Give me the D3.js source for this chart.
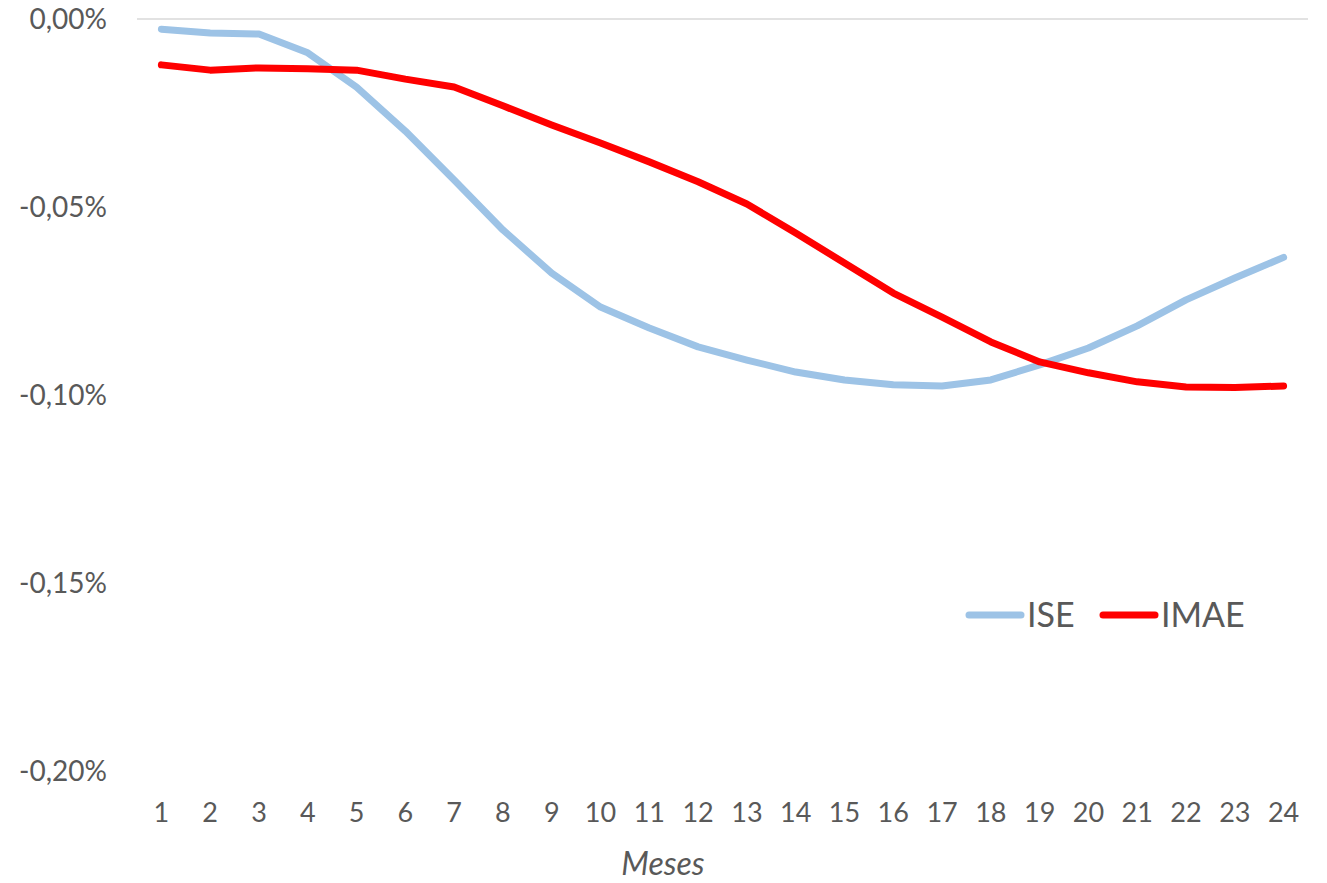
<!DOCTYPE html>
<html><head><meta charset="utf-8">
<script src="https://cdn.jsdelivr.net/npm/d3@7"></script>
<style>body{margin:0;background:#fff;} text{font-family:Lato,"Open Sans",sans-serif;}</style>
</head><body>
<svg id="c" width="1327" height="883"></svg>
<script>
const months = d3.range(1,25).map(String);
const ise = [-0.0027,-0.0037,-0.0040,-0.0090,-0.0181,-0.0298,-0.0428,-0.0561,-0.0676,-0.0766,-0.0822,-0.0872,-0.0907,-0.0939,-0.0960,-0.0973,-0.0976,-0.0960,-0.0920,-0.0875,-0.0816,-0.0747,-0.0689,-0.0634];
const imae = [-0.0122,-0.0136,-0.0130,-0.0132,-0.0136,-0.0160,-0.0181,-0.0231,-0.0282,-0.0330,-0.0380,-0.0433,-0.0492,-0.0569,-0.0649,-0.0729,-0.0793,-0.0859,-0.0912,-0.0941,-0.0965,-0.0979,-0.0980,-0.0976];
const yTicks = [0,-0.05,-0.10,-0.15,-0.20];
const seriesNames = ["ISE","IMAE"];
const colors = ["#9DC3E6","#FF0000"];

const svg = d3.select("#c");
const x = d3.scaleBand().domain(months).range([137,1308]);
const y = d3.scaleLinear().domain([-0.20,0]).range([771,19]);
const fmt = v => (v===0?"0,00%":d3.format(".2f")(v).replace("−","-").replace(".",",")+"%");

// gridline at zero
svg.append("line").attr("x1",137).attr("x2",1308).attr("y1",y(0)).attr("y2",y(0))
  .attr("stroke","#D9D9D9").attr("stroke-width",1.5);

// y tick labels
svg.selectAll(".yt").data(yTicks).enter().append("text")
  .attr("x",107).attr("y",d=>y(d)+10).attr("text-anchor","end")
  .attr("font-size",28).attr("fill","#595959").text(fmt);

// x tick labels
svg.selectAll(".xt").data(months).enter().append("text")
  .attr("x",d=>x(d)+x.bandwidth()/2).attr("y",822).attr("text-anchor","middle")
  .attr("font-size",27).attr("fill","#595959").text(d=>d);

svg.append("text").attr("x",663).attr("y",875).attr("text-anchor","middle")
  .attr("font-size",32).attr("font-style","italic").attr("fill","#595959").text("Meses");

const line = d3.line().x((d,i)=>x(months[i])+x.bandwidth()/2).y(d=>y(d*1));
[ise,imae].forEach((s,k)=>{
  svg.append("path").attr("d",line(s)).attr("fill","none").attr("stroke",colors[k])
    .attr("stroke-width",7).attr("stroke-linecap","round").attr("stroke-linejoin","round");
});

// legend
const lg = [{x:969,name:seriesNames[0],c:colors[0]},{x:1103,name:seriesNames[1],c:colors[1]}];
lg.forEach(l=>{
  svg.append("line").attr("x1",l.x).attr("x2",l.x+52).attr("y1",615).attr("y2",615)
    .attr("stroke",l.c).attr("stroke-width",7).attr("stroke-linecap","round");
  svg.append("text").attr("x",l.x+58).attr("y",627).attr("font-size",34).attr("fill","#595959").text(l.name);
});
</script>
</body></html>
